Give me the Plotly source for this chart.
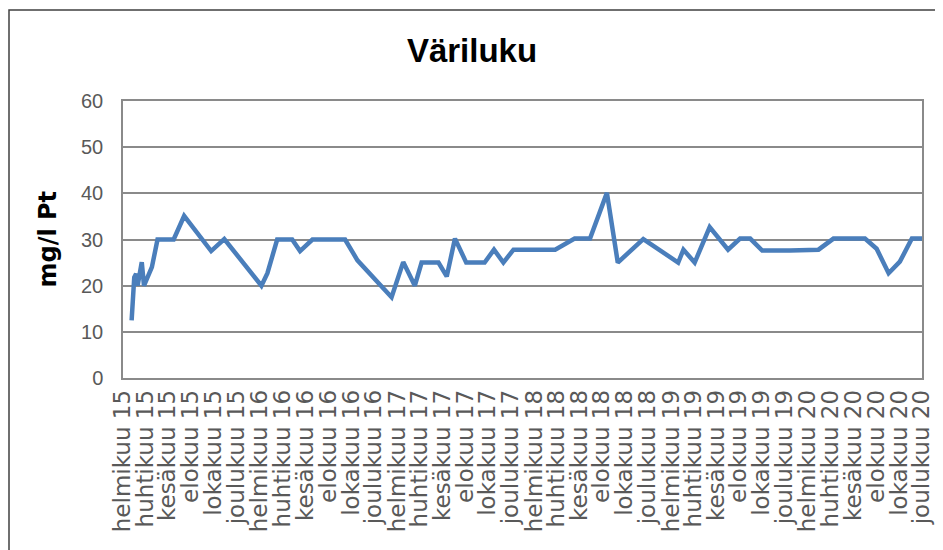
import plotly.graph_objects as go

# ---- data ----
dates = [
    "2015-02-24", "2015-03-03", "2015-03-08", "2015-03-12", "2015-03-23", "2015-03-29",
    "2015-04-19", "2015-05-04", "2015-06-16", "2015-07-14", "2015-09-24", "2015-10-29",
    "2016-02-05", "2016-02-21", "2016-03-18", "2016-04-27", "2016-05-18", "2016-06-20",
    "2016-09-15", "2016-10-18", "2017-01-17", "2017-02-17", "2017-03-20", "2017-04-07",
    "2017-05-22", "2017-06-13", "2017-07-05", "2017-08-04", "2017-09-22", "2017-10-17",
    "2017-11-11", "2017-12-08", "2018-03-29", "2018-05-20", "2018-06-30", "2018-08-14",
    "2018-09-12", "2018-11-19", "2019-02-20", "2019-03-06", "2019-04-05", "2019-05-15",
    "2019-07-03", "2019-08-04", "2019-08-31", "2019-10-02", "2019-12-15", "2020-02-29",
    "2020-04-09", "2020-07-02", "2020-08-02", "2020-09-03", "2020-10-03", "2020-11-04",
    "2020-12-01",
]
variluku = [
    12.5, 21.8, 22.6, 20.0, 25.1, 20.0,
    24.0, 30.0, 30.0, 35.1, 27.5, 30.1,
    20.0, 22.7, 30.0, 30.0, 27.5, 30.0,
    30.0, 25.5, 17.5, 25.1, 20.0, 25.0,
    25.0, 22.0, 30.2, 25.0, 25.0, 27.8,
    25.0, 27.8, 27.8, 30.2, 30.2, 40.1,
    25.0, 30.1, 25.0, 27.8, 25.0, 32.7,
    27.8, 30.2, 30.2, 27.6, 27.6, 27.8,
    30.2, 30.2, 28.0, 22.7, 25.2, 30.2,
    30.2,
]

month_names = {2: "helmikuu", 4: "huhtikuu", 6: "kesäkuu", 8: "elokuu", 10: "lokakuu", 12: "joulukuu"}
years = [2015, 2016, 2017, 2018, 2019, 2020]
tick_vals = []
tick_text = []
for yr in years:
    for m, name in month_names.items():
        tick_vals.append(f"{yr}-{m:02d}-01")
        tick_text.append(f"{name} {yr % 100:02d}")

y_ticks = [0, 10, 20, 30, 40, 50, 60]

title_text = "Väriluku"
y_title = "mg/l Pt"

# The page body adds an 8px offset; layout below is expressed in figure pixels.
L, R, T, B = 115, 29, 93, 180
PW = 943 - L - R
PH = 550 - T - B

fig = go.Figure()
fig.add_trace(go.Scatter(
    x=dates, y=variluku, mode="lines",
    line=dict(color="#4A7EBB", width=4.5),
    hoverinfo="x+y",
))

grid_col = "#8A8A8A"
fig.update_layout(
    width=943, height=550,
    paper_bgcolor="white", plot_bgcolor="white",
    margin=dict(l=L, r=R, t=T, b=B),
    showlegend=False,
    title=dict(text=f"<b>{title_text}</b>", x=(472 - 8) / 943, xanchor="center",
               y=1 - 42 / 550, yanchor="middle",
               font=dict(family="Liberation Sans, Arial", size=33, color="black")),
    xaxis=dict(
        type="date",
        range=["2015-02-01", "2020-12-01"],
        tickmode="array", tickvals=tick_vals, ticktext=tick_text,
        tickangle=-90,
        tickfont=dict(family="DejaVu Sans", size=23, color="#595959"),
        showgrid=False, zeroline=False,
        showline=True, linecolor=grid_col, linewidth=1.5, mirror=True,
        ticks="", ticklabelstandoff=1,
    ),
    yaxis=dict(
        range=[0, 60], tickmode="array", tickvals=y_ticks,
        tickfont=dict(family="Liberation Sans, Arial", size=20, color="#595959"),
        showgrid=True, gridcolor=grid_col, gridwidth=1.5,
        zeroline=False,
        showline=True, linecolor=grid_col, linewidth=1.5, mirror=True,
        ticks="", ticklabelstandoff=14,
    ),
    annotations=[dict(
        text=f"<b>{y_title}</b>", textangle=-90,
        xref="paper", yref="paper", x=(39 - L) / PW, y=0.5,
        xanchor="center", yanchor="middle", showarrow=False,
        font=dict(family="DejaVu Sans", size=24, color="black"),
    )],
    shapes=[dict(
        type="rect", xref="paper", yref="paper",
        x0=(1 - L) / PW, x1=(950 - L) / PW,
        y0=(T + PH - 560) / PH, y1=(T + PH - 2) / PH,
        line=dict(color="#404040", width=1.5), fillcolor="rgba(0,0,0,0)", layer="below",
    )],
)

fig.write_html("out.html")
